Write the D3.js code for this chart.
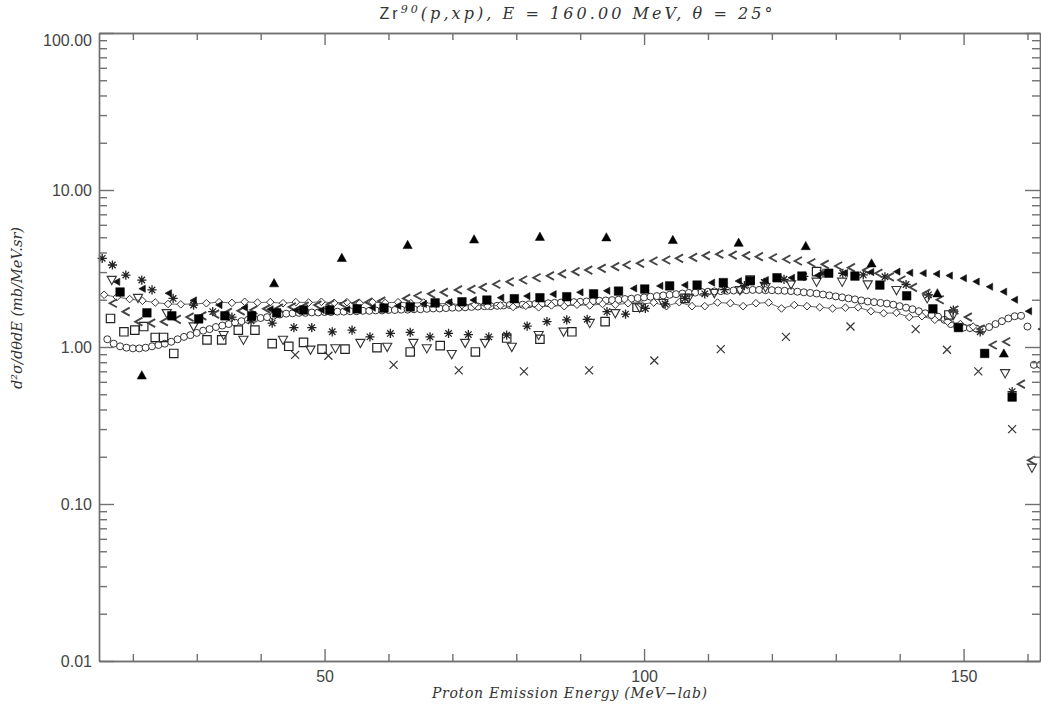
<!DOCTYPE html>
<html>
<head>
<meta charset="utf-8">
<script src="https://cdn.jsdelivr.net/npm/d3@7"></script>
<style>
  body { margin: 0; background: #fff; }
  svg { display: block; }
  .axis path, .axis line { stroke: #707070; stroke-width: 1.4; }
  .axis text { font-family: "Liberation Sans", sans-serif; font-size: 16px; fill: #444; }
  .label { font-family: "DejaVu Serif", serif; font-style: italic; fill: #333; }
</style>
</head>
<body>
<div id="chart"></div>
<script>

const X_MAJOR = [50, 100, 150]
const X_MINOR = [20, 30, 40, 60, 70, 80, 90, 110, 120, 130, 140, 160]
const Y_MAJOR = [0.01, 0.1, 1, 10, 100]

// filled up-triangles
const TRI_E = [21.4, 42.1, 52.7, 63.0, 73.4, 83.7, 94.1, 104.5, 114.8, 125.3, 135.6, 145.9, 156.3]
const TRI_V = [0.66, 2.55, 3.70, 4.47, 4.85, 5.04, 5.00, 4.81, 4.62, 4.40, 3.41, 2.20, 0.91]

// filled squares
const SQF_E = [18.0, 22.2, 26.1, 30.3, 34.4, 38.6, 42.5, 46.7, 50.8, 55.1, 59.3, 63.4, 67.3, 71.5, 75.4, 79.7, 83.7, 87.9,
  92.1, 96.0, 100.1, 104.0, 108.3, 112.4, 116.6, 120.8, 124.7, 128.9, 133.0, 136.9, 141.1, 145.2, 149.2, 153.3, 157.6]
const SQF_V = [2.24, 1.65, 1.58, 1.51, 1.58, 1.58, 1.65, 1.72, 1.72, 1.75, 1.77, 1.80, 1.91, 1.94, 1.99, 2.03, 2.06, 2.09,
  2.18, 2.27, 2.34, 2.45, 2.48, 2.57, 2.64, 2.76, 2.83, 2.95, 2.83, 2.48, 2.12, 1.75, 1.33, 0.91, 0.48]

// small filled left-triangles
const TRL_E = [17.5, 21.5, 25.6, 29.5, 33.5, 37.5, 41.5, 45.5, 49.5, 53.5, 57.5, 61.5, 65.5, 69.5, 73.3, 77.6, 81.7, 85.8,
  90.0, 94.2, 98.4, 102.5, 106.4, 110.6, 114.8, 119.0, 123.1, 127.2, 131.4, 135.5, 139.6, 141.6, 143.7, 145.8, 147.8,
  150.0, 152.0, 154.1, 156.3, 158.0, 160.2, 162.2]
const TRL_V = [2.6, 2.35, 2.2, 1.98, 1.85, 1.78, 1.74, 1.72, 1.72, 1.74, 1.78, 1.83, 1.88, 1.93, 1.99, 2.06, 2.11, 2.17,
  2.23, 2.28, 2.36, 2.45, 2.48, 2.57, 2.63, 2.67, 2.76, 2.86, 2.96, 3.0, 3.02, 2.97, 2.95, 2.92, 2.85,
  2.74, 2.61, 2.42, 2.25, 2.0, 1.69, 1.30]

// open chevrons
const CHV_E = [17, 19, 21, 23, 25, 27, 29, 31, 33, 35, 37, 39, 41, 43, 45, 47, 49, 51, 53, 55, 57, 59,
  62.9, 64.7, 66.8, 68.8, 71.0, 73.1, 74.9, 77.0, 79.1, 81.2, 83.3, 85.4, 87.3, 89.4, 91.4, 93.5, 95.6, 97.4, 99.5,
  101.6, 103.6, 105.6, 107.8, 109.8, 111.9, 114.0, 116.1, 118.1, 120.3, 122.4, 124.2, 126.3, 128.4, 130.5, 132.5,
  134.9, 136.8, 138.6, 140.4, 142.2, 144.3, 146.4, 148.7, 150.8, 152.8, 154.7, 156.8, 159.1, 160.7]
const CHV_V = [1.9, 1.68, 1.45, 1.42, 1.45, 1.5, 1.55, 1.58, 1.62, 1.66, 1.7, 1.72, 1.75, 1.77, 1.8, 1.82, 1.85, 1.87, 1.88, 1.9, 1.93, 1.96,
  2.04, 2.12, 2.18, 2.23, 2.31, 2.33, 2.40, 2.51, 2.60, 2.67, 2.76, 2.84, 2.92, 3.02, 3.09, 3.17, 3.25, 3.33, 3.41,
  3.53, 3.58, 3.67, 3.72, 3.82, 3.90, 3.85, 3.82, 3.76, 3.70, 3.62, 3.53, 3.44, 3.36, 3.28, 3.20,
  3.09, 2.95, 2.80, 2.67, 2.40, 2.20, 2.00, 1.72, 1.55, 1.30, 1.03, 1.08, 0.58, 0.19]

// open circles
const CIR_E = [16, 17, 18, 19, 20, 21, 22, 23, 24, 25, 26, 27, 28, 29, 30, 31, 32, 33, 34, 35, 36, 37, 38, 39, 40,
  41, 42, 43, 44, 45, 46, 47, 48, 49, 50, 51, 52, 53, 54, 55, 56, 57, 58, 59, 60, 61, 62, 63, 64, 65, 66, 67, 68, 69, 70,
  71, 72, 73, 74, 75, 76, 77, 78, 79, 80, 81, 82, 83, 84, 85, 86, 87, 88, 89, 90, 91, 92, 93, 94, 95, 96, 97, 98, 99, 100,
  101, 102, 103, 104, 105, 106, 107, 108, 109, 110, 111, 112, 113, 114, 115, 116, 117, 118, 119, 120, 121, 122, 123, 124, 125,
  126, 127, 128, 129, 130, 131, 132, 133, 134, 135, 136, 137, 138, 139, 140, 141, 142, 143, 144, 145, 146, 147, 148, 149, 150,
  151, 152, 153, 154, 155, 156, 157, 158, 159, 160, 161, 162]
const CIR_V = [1.12, 1.05, 1.01, 0.99, 0.98, 0.98, 0.99, 1.01, 1.03, 1.05,
  1.08, 1.12, 1.16, 1.19, 1.23, 1.27, 1.30, 1.34, 1.37, 1.40,
  1.43, 1.46, 1.49, 1.51, 1.53, 1.55, 1.58, 1.61, 1.63, 1.64,
  1.65, 1.65, 1.66, 1.66, 1.67, 1.67, 1.68, 1.68, 1.69, 1.69,
  1.70, 1.70, 1.71, 1.71, 1.72, 1.72, 1.73, 1.73, 1.74, 1.74,
  1.75, 1.76, 1.76, 1.77, 1.78, 1.78, 1.79, 1.80, 1.81, 1.82,
  1.82, 1.83, 1.84, 1.85, 1.86, 1.86, 1.87, 1.88, 1.89, 1.90,
  1.91, 1.92, 1.92, 1.93, 1.94, 1.95, 1.96, 1.97, 1.98, 1.99,
  2.00, 2.02, 2.03, 2.05, 2.07, 2.09, 2.11, 2.13, 2.15, 2.17,
  2.19, 2.21, 2.22, 2.24, 2.25, 2.26, 2.27, 2.28, 2.29, 2.30,
  2.30, 2.31, 2.31, 2.30, 2.30, 2.29, 2.28, 2.27, 2.25, 2.23,
  2.21, 2.19, 2.16, 2.13, 2.10, 2.07, 2.04, 2.01, 1.98, 1.95,
  1.93, 1.91, 1.89, 1.86, 1.82, 1.78, 1.74, 1.69, 1.64, 1.60,
  1.56, 1.49, 1.40, 1.35, 1.33, 1.32, 1.31, 1.30, 1.34, 1.40,
  1.46, 1.52, 1.57, 1.58, 1.35, 0.77, 0.77]

// open diamonds, joined
const DIA_E = [15.5, 17.5, 19.5, 21.5, 23.5, 25.5, 27.5, 29.5, 31.5, 33.5, 35.5, 37.5, 39.5, 41.5, 43.5, 45.5, 47.5, 49.5,
  51.5, 53.5, 55.5, 57.5, 59.5, 61.5, 63.5, 65.5, 67.5, 69.5, 71.5, 73.5, 75.5, 77.5, 79.5, 81.5, 83.5, 85.5, 87.5, 89.5,
  91.5, 93.5, 95.5, 97.5, 99.5, 101.5, 103.5, 105.5, 107.5, 109.5, 111.5, 113.5, 115.5, 117.5, 119.5, 121.5, 123.5, 125.5,
  127.5, 129.5, 131.5, 133.5, 135.5, 137.5, 139.5, 141.5, 143.5, 145.5, 147.5, 149.5, 151.5]
const DIA_V = [2.15, 2.08, 2.02, 1.97, 1.92, 1.88, 1.87, 1.88, 1.90, 1.93,
  1.91, 1.94, 1.92, 1.93, 1.90, 1.93, 1.92, 1.94, 1.91, 1.93,
  1.90, 1.93, 1.91, 1.93, 1.90, 1.92, 1.88, 1.90, 1.85, 1.86,
  1.82, 1.84, 1.80, 1.83, 1.79, 1.84, 1.82, 1.86, 1.84, 1.88,
  1.86, 1.90, 1.87, 1.92, 1.82, 1.93, 1.82, 1.82, 1.92, 1.90,
  1.82, 1.90, 1.92, 1.76, 1.85, 1.82, 1.79, 1.76, 1.78, 1.79,
  1.69, 1.64, 1.65, 1.55, 1.57, 1.49, 1.45, 1.40, 1.35]

// asterisks
const STR_E = [15.2, 16.8, 18.9, 21.4, 23.0, 26.3, 29.5, 32.5, 35.5, 38.5, 41.8, 45.2, 48.0, 51.2, 54.3, 57.1, 60.3, 63.4,
  66.5, 69.4, 72.5, 75.7, 78.5, 81.7, 84.8, 87.9, 91.1, 94.2, 97.1, 100.2, 103.3, 106.4, 109.5, 112.6, 115.7, 118.8,
  121.9, 125.0, 128.0, 131.1, 134.3, 137.7, 141.0, 144.5, 148.4, 152.6, 157.6]
const STR_V = [3.67, 3.33, 2.87, 2.67, 2.31, 2.04, 1.85, 1.68, 1.55, 1.47, 1.42, 1.33, 1.33, 1.25, 1.28, 1.16, 1.22, 1.24,
  1.16, 1.22, 1.20, 1.16, 1.19, 1.36, 1.45, 1.49, 1.50, 1.68, 1.62, 1.76, 1.88, 2.04, 2.18, 2.32, 2.46, 2.58,
  2.70, 2.82, 2.95, 2.95, 2.88, 2.80, 2.50, 2.15, 1.72, 1.25, 0.52]

// open squares
const SQO_E = [16.5, 18.6, 20.3, 21.7, 23.5, 24.8, 26.4, 31.6, 33.9, 36.5, 39.1, 41.8, 44.4, 46.7, 49.6, 53.2, 58.2, 63.4,
  68.1, 73.6, 78.5, 83.7, 88.7, 93.9, 98.9, 106.4, 116.6, 127.0, 147.7]
const SQO_V = [1.52, 1.25, 1.28, 1.35, 1.15, 1.15, 0.91, 1.11, 1.11, 1.28, 1.28, 1.05, 1.01, 1.07, 0.97, 0.97, 0.99, 0.93,
  1.02, 0.93, 1.14, 1.12, 1.25, 1.45, 1.79, 2.04, 2.67, 3.02, 1.60]

// open down-triangles
const TRD_E = [16.7, 20.8, 25.3, 29.5, 34.2, 37.3, 43.5, 47.8, 51.7, 55.6, 59.8, 63.9, 66.0, 69.9, 72.0, 75.1, 79.3, 83.5,
  87.4, 91.5, 95.5, 99.3, 103.0, 107.0, 111.0, 115.0, 119.0, 123.0, 127.0, 131.0, 135.0, 139.5, 144.3, 148.4, 156.5, 160.7]
const TRD_V = [2.67, 2.05, 1.64, 1.35, 1.19, 1.11, 1.11, 0.96, 0.98, 1.06, 1.00, 1.06, 0.98, 0.90, 1.06, 1.06, 1.00, 1.19,
  1.25, 1.42, 1.64, 1.78, 1.90, 2.05, 2.20, 2.30, 2.40, 2.50, 2.60, 2.60, 2.50, 2.30, 2.04, 1.60, 0.68, 0.17]

// crosses
const CRS_E = [45.4, 50.6, 60.8, 71.0, 81.2, 91.4, 101.6, 112.0, 122.2, 132.3, 142.5, 147.4, 152.3, 157.6]
const CRS_V = [0.89, 0.88, 0.77, 0.71, 0.70, 0.71, 0.82, 0.97, 1.16, 1.35, 1.30, 0.96, 0.70, 0.30]

const WIDTH = 1041, HEIGHT = 711
const PLOT = { left: 99, right: 1040, top: 33, bottom: 661 }

const shapes = {
  triUp: (r) => `M0,${-r}L${r},${r * 0.8}L${-r},${r * 0.8}Z`,
  triDown: (r) => `M${-r},${-r * 0.8}L${r},${-r * 0.8}L0,${r}Z`,
  triLeft: (r) => `M${-r},0L${r * 0.8},${-r}L${r * 0.8},${r}Z`,
  chevron: (r) => `M${r * 0.8},${-r}L${-r},0L${r * 0.8},${r}`,
  square: (r) => `M${-r},${-r}H${r}V${r}H${-r}Z`,
  diamond: (r) => `M0,${-r}L${r},0L0,${r}L${-r},0Z`,
  cross: (r) => `M${-r},${-r}L${r},${r}M${r},${-r}L${-r},${r}`,
  star: (r) => `M0,${-r}V${r}M${-r},0H${r}M${-r * 0.7},${-r * 0.7}L${r * 0.7},${r * 0.7}M${r * 0.7},${-r * 0.7}L${-r * 0.7},${r * 0.7}`,
  circle: (r) => `M${r},0A${r},${r} 0 1,1 ${-r},0A${r},${r} 0 1,1 ${r},0Z`
}

const series = [
  { e: CIR_E, v: CIR_V, shape: 'circle', r: 3.5, fill: '#fff', stroke: '#333', sw: 1 },
  { e: DIA_E, v: DIA_V, shape: 'diamond', r: 3.8, fill: '#fff', stroke: '#333', sw: 1, line: true },
  { e: SQO_E, v: SQO_V, shape: 'square', r: 4.2, fill: 'none', stroke: '#222', sw: 1.2 },
  { e: TRD_E, v: TRD_V, shape: 'triDown', r: 4.6, fill: 'none', stroke: '#333', sw: 1.1 },
  { e: CRS_E, v: CRS_V, shape: 'cross', r: 4, fill: 'none', stroke: '#333', sw: 1.2 },
  { e: STR_E, v: STR_V, shape: 'star', r: 4.6, fill: 'none', stroke: '#222', sw: 1.3 },
  { e: CHV_E, v: CHV_V, shape: 'chevron', r: 4, fill: 'none', stroke: '#444', sw: 1.9 },
  { e: TRL_E, v: TRL_V, shape: 'triLeft', r: 3.6, fill: '#111', stroke: '#111', sw: 0.6 },
  { e: SQF_E, v: SQF_V, shape: 'square', r: 4.3, fill: '#000', stroke: '#000', sw: 0.5 },
  { e: TRI_E, v: TRI_V, shape: 'triUp', r: 4.6, fill: '#000', stroke: '#000', sw: 0.5 }
]

const svg = d3.select('#chart')
  .append('svg')
    .attr('width', WIDTH)
    .attr('height', HEIGHT)

const x = d3.scaleLinear()
  .domain([14.7, 161.96])
  .range([PLOT.left, PLOT.right])

const y = d3.scaleLog()
  .domain([0.01, 100])
  .range([PLOT.bottom, PLOT.top])

let yMinor = []
Y_MAJOR.slice(0, -1).forEach((d) => d3.range(2, 10).forEach((m) => yMinor.push(d * m)))

// data

let marks = svg.append('g').attr('class', 'marks')

series.forEach((s) => {
  let pts = s.e.map((e, i) => [e, s.v[i]])
  if (s.line) {
    marks.append('path')
      .datum(pts)
      .attr('fill', 'none')
      .attr('stroke', '#555')
      .attr('stroke-width', 0.9)
      .attr('d', d3.line().x((d) => x(d[0])).y((d) => y(d[1])))
  }
  marks.append('g')
    .selectAll('path')
    .data(pts)
    .enter().append('path')
      .attr('transform', (d) => 'translate(' + [x(d[0]), y(d[1])] + ')')
      .attr('d', shapes[s.shape](s.r))
      .attr('fill', s.fill)
      .attr('stroke', s.stroke)
      .attr('stroke-width', s.sw)
})

// axes

svg.append('g')
  .attr('class', 'axis')
  .attr('transform', 'translate(0,' + PLOT.bottom + ')')
  .call(d3.axisBottom(x).tickValues(X_MAJOR).tickSize(-12).tickSizeOuter(0).tickPadding(10).tickFormat(d3.format('d')))

svg.append('g')
  .attr('class', 'axis')
  .attr('transform', 'translate(0,' + PLOT.bottom + ')')
  .call(d3.axisBottom(x).tickValues(X_MINOR).tickSize(-7).tickSizeOuter(0).tickFormat(''))

svg.append('g')
  .attr('class', 'axis')
  .attr('transform', 'translate(0,' + PLOT.top + ')')
  .call(d3.axisTop(x).tickValues(X_MAJOR).tickSize(-12).tickSizeOuter(0).tickFormat(''))

svg.append('g')
  .attr('class', 'axis')
  .attr('transform', 'translate(0,' + PLOT.top + ')')
  .call(d3.axisTop(x).tickValues(X_MINOR).tickSize(-7).tickSizeOuter(0).tickFormat(''))

let left = svg.append('g')
  .attr('class', 'axis')
  .attr('transform', 'translate(' + PLOT.left + ',0)')
  .call(d3.axisLeft(y).tickValues(Y_MAJOR).tickSize(-15).tickSizeOuter(0).tickPadding(7).tickFormat(d3.format('.2f')))

left.selectAll('.tick text')
  .filter((d) => d === 100)
  .attr('dy', '0.75em')

svg.append('g')
  .attr('class', 'axis')
  .attr('transform', 'translate(' + PLOT.left + ',0)')
  .call(d3.axisLeft(y).tickValues(yMinor).tickSize(-8).tickSizeOuter(0).tickFormat(''))

svg.append('g')
  .attr('class', 'axis')
  .attr('transform', 'translate(' + PLOT.right + ',0)')
  .call(d3.axisRight(y).tickValues(Y_MAJOR).tickSize(-15).tickSizeOuter(0).tickFormat(''))

svg.append('g')
  .attr('class', 'axis')
  .attr('transform', 'translate(' + PLOT.right + ',0)')
  .call(d3.axisRight(y).tickValues(yMinor).tickSize(-8).tickSizeOuter(0).tickFormat(''))

// labels

let title = svg.append('text')
  .attr('class', 'label')
  .attr('x', 576)
  .attr('y', 19)
  .attr('text-anchor', 'middle')
  .attr('font-size', 16)
  .attr('textLength', 393)
  .attr('lengthAdjust', 'spacing')

title.append('tspan')
  .attr('font-family', '"Liberation Sans", sans-serif')
  .attr('font-style', 'normal')
  .text('Zr')

title.append('tspan')
  .attr('font-size', 11)
  .attr('dy', -6)
  .text('90')

title.append('tspan')
  .attr('dy', 6)
  .text('(p,xp), E = 160.00 MeV, θ = 25°')

svg.append('text')
  .attr('class', 'label')
  .attr('x', 569.5)
  .attr('y', 698)
  .attr('text-anchor', 'middle')
  .attr('font-size', 14)
  .attr('textLength', 275)
  .attr('lengthAdjust', 'spacing')
  .text('Proton Emission Energy (MeV−lab)')

svg.append('text')
  .attr('class', 'label')
  .attr('transform', 'translate(22,308) rotate(-90)')
  .attr('text-anchor', 'middle')
  .attr('font-size', 14)
  .attr('textLength', 162)
  .attr('lengthAdjust', 'spacingAndGlyphs')
  .text('d²σ/dθdE (mb/MeV.sr)')

</script>
</body>
</html>
